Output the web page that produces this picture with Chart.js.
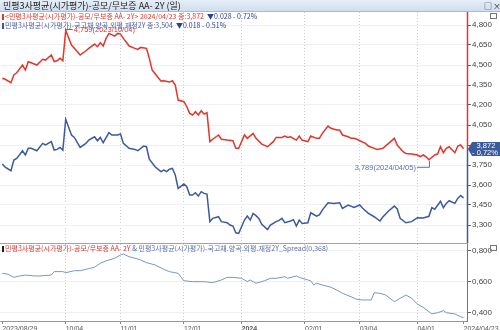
<!DOCTYPE html>
<html>
<head>
<meta charset="utf-8">
<script src="https://cdn.jsdelivr.net/npm/chart.js@4.4.1/dist/chart.umd.min.js"></script>
<style>
  body { margin: 0; width: 500px; height: 330px; overflow: hidden; background: #fff; position: relative;
         font-family: "Noto Sans CJK KR", "Liberation Sans", sans-serif; }
  .bar { position: absolute; left: 0; top: 0; width: 500px; height: 12px; box-sizing: border-box;
         background: linear-gradient(#e6eef8, #cfdeee); border-bottom: 1px solid #a9bcd2;
         font-size: 9px; line-height: 11px; color: #222; padding-left: 3px; z-index: 3; white-space: nowrap; }
  .bar .btn { position: absolute; top: 0; font-size: 8px; color: #222; }
  canvas { position: absolute; left: 0; }
  #c1 { top: 12px; }
  #c2 { top: 243px; }
  .lg { position: absolute; left: 2px; font-size: 7px; line-height: 9px; white-space: nowrap; z-index: 2; }
  .mk { display: inline-block; width: 2px; height: 6px; margin-right: 1px; vertical-align: -0.5px; }
  .sep { position: absolute; left: 0; top: 243px; width: 468px; height: 1px; background: #9aa3b0; z-index: 2; }
  .ico { position: absolute; width: 5px; height: 4px; border: 1px solid #777; z-index: 2; }
</style>
</head>
<body>
<div class="bar">민평3사평균(시가평가)-공모/무보증 AA- 2Y (일)<span class="btn" style="left:484px">□</span><span class="btn" style="left:493px">×</span></div>
<canvas id="c1" width="500" height="231"></canvas>
<canvas id="c2" width="500" height="87"></canvas>
<div class="sep"></div>
<div class="lg" style="top:12px;color:#e2362c"><span class="mk" style="background:#e2362c"></span>&lt;민평3사평균(시가평가)-공모/무보증 AA- 2Y&gt; 2024/04/23 종:3,872 &nbsp;<span style="color:#2b3f8f">▼0.028 - 0.72%</span></div>
<div class="lg" style="top:21px;color:#4b5fa3"><span class="mk" style="background:#3d5a9c"></span>민평3사평균(시가평가)-국고채.양곡.외평.재정2Y 종:3,504 &nbsp;<span style="color:#2b3f8f">▼0.018 - 0.51%</span></div>
<div class="lg" style="top:244px;color:#e2362c"><span class="mk" style="background:#222"></span>민평3사평균(시가평가)-공모/무보증 AA- 2Y <span style="color:#5a70aa">&amp; 민평3사평균(시가평가)-국고채.양곡.외평.재정2Y_Spread(0,368)</span></div>
<div class="ico" style="left:490px;top:13px"></div>
<div class="ico" style="left:490px;top:245px"></div>
<script>
// trading-day index on the x axis (0 = 2023/08/29, 160 = 2024/04/23)
const tickDays = [0, 22, 41, 63, 83, 105, 124, 144, 160];
const tickLabels = ['2023/08/29', '10/04', '11/01', '12/01', '2024', '02/01', '03/04', '04/01', '2024/04/23'];
const mainTicks = [3.3, 3.45, 3.6, 3.75, 3.9, 4.05, 4.2, 4.35, 4.5, 4.65, 4.8];
const spreadTicks = [0.4, 0.6, 0.8];

// 공모/무보증 AA- 2Y
const aaDays = [0, 1, 3, 4, 5, 7, 8, 9, 10, 12, 14, 15, 17, 18, 19, 20, 21, 22, 24, 25, 27, 29, 30, 32, 33, 34, 35, 36, 37, 39,
  40, 41, 42, 44, 46, 47, 48, 50, 51, 52, 55, 56, 58, 59, 60, 61, 63, 64, 65, 66, 67, 68, 69, 70, 71, 72, 73, 75, 76, 78,
  80, 81, 82, 84, 85, 87, 88, 90, 92, 94, 95, 97, 98, 99, 100, 102, 103, 104, 106, 107, 109, 110, 111, 113, 114, 116, 117, 118, 120, 121,
  122, 123, 124, 126, 127, 129, 130, 132, 134, 136, 137, 139, 140, 142, 144, 145, 146, 147, 148, 150, 151, 152, 153, 154, 155, 157, 158, 159, 160];
const aaVals = [4.400, 4.393, 4.367, 4.425, 4.442, 4.500, 4.463, 4.525, 4.517, 4.500, 4.543, 4.537, 4.575, 4.525, 4.532, 4.550, 4.532, 4.759, 4.650, 4.625, 4.575, 4.607, 4.625, 4.657, 4.637, 4.667, 4.642, 4.700, 4.737, 4.717,
  4.737, 4.732, 4.700, 4.642, 4.625, 4.617, 4.632, 4.625, 4.550, 4.462, 4.380, 4.382, 4.372, 4.382, 4.350, 4.237, 4.225, 4.187, 4.137, 4.125, 4.150, 4.125, 4.157, 4.132, 4.142, 3.925, 3.943, 3.975, 3.943, 3.937,
  3.932, 3.875, 3.875, 3.975, 3.950, 3.987, 3.950, 3.907, 3.887, 3.925, 3.957, 3.957, 3.967, 3.957, 3.962, 3.937, 3.967, 3.937, 3.925, 3.967, 3.950, 3.950, 3.987, 4.042, 4.025, 4.012, 4.012, 3.975, 3.962, 3.950,
  3.950, 3.943, 3.932, 3.912, 3.892, 3.875, 3.867, 3.875, 3.912, 3.950, 3.900, 3.850, 3.837, 3.832, 3.825, 3.812, 3.825, 3.812, 3.789, 3.825, 3.832, 3.887, 3.842, 3.875, 3.887, 3.842, 3.892, 3.900, 3.872];

// 국고채.양곡.외평.재정 2Y
const govDays = [0, 1, 3, 4, 5, 7, 8, 9, 10, 12, 14, 15, 17, 18, 19, 20, 21, 22, 24, 25, 27, 29, 30, 32, 33, 34, 35, 37, 38, 40,
  41, 42, 44, 46, 47, 49, 50, 51, 53, 55, 56, 57, 58, 59, 60, 61, 63, 64, 65, 66, 67, 68, 69, 70, 71, 72, 73, 75, 76, 78,
  79, 80, 81, 82, 84, 85, 86, 87, 88, 89, 90, 92, 93, 95, 96, 97, 98, 100, 101, 102, 103, 104, 106, 107, 109, 110, 111, 113, 115, 117,
  118, 120, 122, 124, 125, 127, 129, 131, 132, 134, 136, 137, 138, 140, 142, 144, 146, 148, 149, 150, 152, 153, 154, 155, 157, 158, 159, 160];
const govVals = [3.757, 3.733, 3.707, 3.787, 3.800, 3.857, 3.825, 3.875, 3.875, 3.857, 3.912, 3.900, 3.925, 3.862, 3.867, 3.882, 3.862, 4.093, 3.975, 3.957, 3.882, 3.912, 3.937, 3.962, 3.932, 3.957, 3.917, 3.992, 3.975, 3.975,
  3.982, 3.912, 3.875, 3.867, 3.857, 3.892, 3.887, 3.793, 3.737, 3.700, 3.712, 3.700, 3.718, 3.725, 3.675, 3.575, 3.607, 3.587, 3.525, 3.525, 3.542, 3.517, 3.550, 3.537, 3.532, 3.325, 3.350, 3.362, 3.325, 3.317,
  3.300, 3.292, 3.242, 3.237, 3.337, 3.367, 3.337, 3.387, 3.370, 3.350, 3.305, 3.265, 3.300, 3.325, 3.335, 3.350, 3.317, 3.330, 3.340, 3.292, 3.337, 3.312, 3.317, 3.392, 3.367, 3.375, 3.412, 3.467, 3.462, 3.467,
  3.425, 3.450, 3.432, 3.450, 3.425, 3.387, 3.362, 3.330, 3.360, 3.405, 3.442, 3.420, 3.350, 3.317, 3.325, 3.355, 3.352, 3.365, 3.430, 3.418, 3.478, 3.430, 3.462, 3.482, 3.462, 3.500, 3.522, 3.504];

// spread
const spreadDays = [0, 2, 4, 6, 8, 11, 13, 17, 18, 21, 22, 25, 27, 29, 32, 34, 36, 39, 41, 42, 44, 45, 48, 50, 53, 56, 58, 61, 63, 66,
  70, 73, 76, 78, 80, 83, 85, 86, 88, 91, 93, 95, 98, 99, 102, 103, 106, 107, 108, 109, 111, 114, 116, 118, 121, 123, 125, 128, 129, 131,
  133, 136, 137, 140, 142, 144, 146, 149, 151, 153, 154, 157, 159, 160];
const spreadVals = [0.654, 0.648, 0.628, 0.637, 0.643, 0.637, 0.637, 0.643, 0.665, 0.665, 0.658, 0.671, 0.671, 0.680, 0.693, 0.719, 0.735, 0.751, 0.772, 0.779, 0.761, 0.757, 0.740, 0.723, 0.708, 0.680, 0.665, 0.654, 0.606, 0.600,
  0.600, 0.594, 0.611, 0.628, 0.628, 0.622, 0.600, 0.611, 0.590, 0.606, 0.622, 0.622, 0.632, 0.622, 0.637, 0.628, 0.611, 0.606, 0.579, 0.590, 0.579, 0.564, 0.546, 0.525, 0.503, 0.486, 0.482, 0.482, 0.529, 0.525,
  0.514, 0.471, 0.482, 0.514, 0.493, 0.456, 0.435, 0.392, 0.400, 0.413, 0.400, 0.392, 0.374, 0.368];

const FONT = '"Liberation Sans", Arial, sans-serif';
const RED = '#e2362c';
const BLUE = '#3d5a9c';
const SPREAD = '#7d92c6';
const X_MIN = -0.8, X_MAX = 161.2;

const pts = (days, vals) => days.map((d, i) => ({ x: d, y: vals[i] }));
const fmt = v => v.toFixed(3).replace('.', ',');

// axis line (red / blue), last-value badge and hi/lo notes
const mainDeco = {
  id: 'mainDeco',
  afterDraw(chart) {
    const { ctx, chartArea: a, scales: { x, y } } = chart;
    const last = aaVals[aaVals.length - 1];
    const yl = Math.round(y.getPixelForValue(last));
    const ax = a.right + 0.5;
    ctx.save();
    ctx.lineWidth = 1.5;
    ctx.strokeStyle = RED;
    ctx.beginPath(); ctx.moveTo(ax, a.top); ctx.lineTo(ax, yl); ctx.stroke();
    ctx.strokeStyle = BLUE;
    ctx.beginPath(); ctx.moveTo(ax, yl); ctx.lineTo(ax, a.bottom); ctx.stroke();

    // badge
    ctx.fillStyle = '#3b5a9a';
    ctx.beginPath();
    ctx.moveTo(a.right + 1, yl);
    ctx.lineTo(a.right + 5, yl - 7);
    ctx.lineTo(500, yl - 7);
    ctx.lineTo(500, yl + 7);
    ctx.lineTo(a.right + 5, yl + 7);
    ctx.closePath();
    ctx.fill();
    ctx.fillStyle = '#fff';
    ctx.font = '7.5px ' + FONT;
    ctx.textAlign = 'center';
    ctx.textBaseline = 'middle';
    ctx.fillText('3,872', 486, yl - 3);
    ctx.fillText('- 0,72%', 485, yl + 4);

    // high note
    const hi = aaVals.indexOf(Math.max(...aaVals));
    const hx = x.getPixelForValue(aaDays[hi]), hy = y.getPixelForValue(aaVals[hi]);
    ctx.strokeStyle = RED; ctx.lineWidth = 1;
    ctx.beginPath(); ctx.moveTo(hx, hy + 2); ctx.lineTo(hx, hy - 1); ctx.lineTo(hx + 7, hy - 1); ctx.stroke();
    ctx.fillStyle = RED;
    ctx.textAlign = 'left';
    ctx.font = '7.5px ' + FONT;
    ctx.fillText('4,759(2023/10/04)', hx + 8, hy - 0.5);

    // low note
    const lo = aaVals.indexOf(Math.min(...aaVals));
    const lx = x.getPixelForValue(aaDays[lo]), ly = y.getPixelForValue(aaVals[lo]);
    ctx.strokeStyle = '#5a73ad';
    ctx.beginPath(); ctx.moveTo(lx - 12, ly + 7.5); ctx.lineTo(lx + 0.5, ly + 7.5); ctx.lineTo(lx + 0.5, ly + 1); ctx.stroke();
    ctx.fillStyle = '#5a73ad';
    ctx.textAlign = 'right';
    ctx.fillText('3,789(2024/04/05)', lx - 13, ly + 8);
    ctx.restore();
  }
};

new Chart(document.getElementById('c1'), {
  type: 'line',
  data: {
    datasets: [
      { data: pts(aaDays, aaVals), borderColor: RED, borderWidth: 1.5, pointRadius: 0, tension: 0 },
      { data: pts(govDays, govVals), borderColor: BLUE, borderWidth: 1.5, pointRadius: 0, tension: 0 }
    ]
  },
  options: {
    responsive: false,
    animation: false,
    events: [],
    layout: { padding: 0 },
    plugins: { legend: { display: false }, tooltip: { enabled: false } },
    scales: {
      x: {
        type: 'linear', min: X_MIN, max: X_MAX,
        afterBuildTicks: s => { s.ticks = tickDays.slice(1, -1).map(v => ({ value: v })); },
        afterFit: s => { s.height = 0; s.paddingLeft = 0; s.paddingRight = 0; },
        ticks: { display: false },
        grid: { color: '#c9cfdb', drawTicks: false },
        border: { display: false, dash: [1, 2] }
      },
      y: {
        position: 'right', min: 3.165, max: 4.8975,
        afterBuildTicks: s => { s.ticks = mainTicks.map(v => ({ value: v })); },
        afterFit: s => { s.width = 33; s.paddingTop = 0; s.paddingBottom = 0; },
        ticks: { font: { family: FONT, size: 8 }, color: '#444', padding: 1, callback: v => fmt(v) },
        grid: { color: '#eef0f4', tickColor: '#666', tickLength: 4 },
        border: { display: false }
      }
    }
  },
  plugins: [mainDeco]
});

new Chart(document.getElementById('c2'), {
  type: 'line',
  data: {
    datasets: [
      { data: pts(spreadDays, spreadVals), borderColor: SPREAD, borderWidth: 1, pointRadius: 0, tension: 0 }
    ]
  },
  options: {
    responsive: false,
    animation: false,
    events: [],
    layout: { padding: { top: 1 } },
    plugins: { legend: { display: false }, tooltip: { enabled: false } },
    scales: {
      x: {
        type: 'linear', min: X_MIN, max: X_MAX,
        afterBuildTicks: s => { s.ticks = tickDays.map(v => ({ value: v })); },
        afterFit: s => { s.height = 9; s.paddingLeft = 0; s.paddingRight = 0; },
        ticks: {
          autoSkip: false, maxRotation: 0, align: 'start', padding: 1, color: '#555',
          font: c => ({ family: FONT, size: 7, weight: tickLabels[c.index] === '2024' ? 'bold' : 'normal' }),
          callback: (v, i) => tickLabels[i]
        },
        grid: {
          color: c => (c.index === 0 || c.index === tickDays.length - 1) ? 'rgba(0,0,0,0)' : '#c9cfdb',
          tickColor: '#888', tickLength: 3
        },
        border: { display: true, color: '#999', dash: [1, 2] }
      },
      y: {
        position: 'right', min: 0.3464, max: 0.8432,
        afterBuildTicks: s => { s.ticks = spreadTicks.map(v => ({ value: v })); },
        afterFit: s => { s.width = 33; s.paddingTop = 0; s.paddingBottom = 0; },
        ticks: { font: { family: FONT, size: 8 }, color: '#444', padding: 1, callback: v => fmt(v) },
        grid: { color: '#eef0f4', tickColor: '#666', tickLength: 4 },
        border: { display: true, color: '#777' }
      }
    }
  }
});
</script>
</body>
</html>
